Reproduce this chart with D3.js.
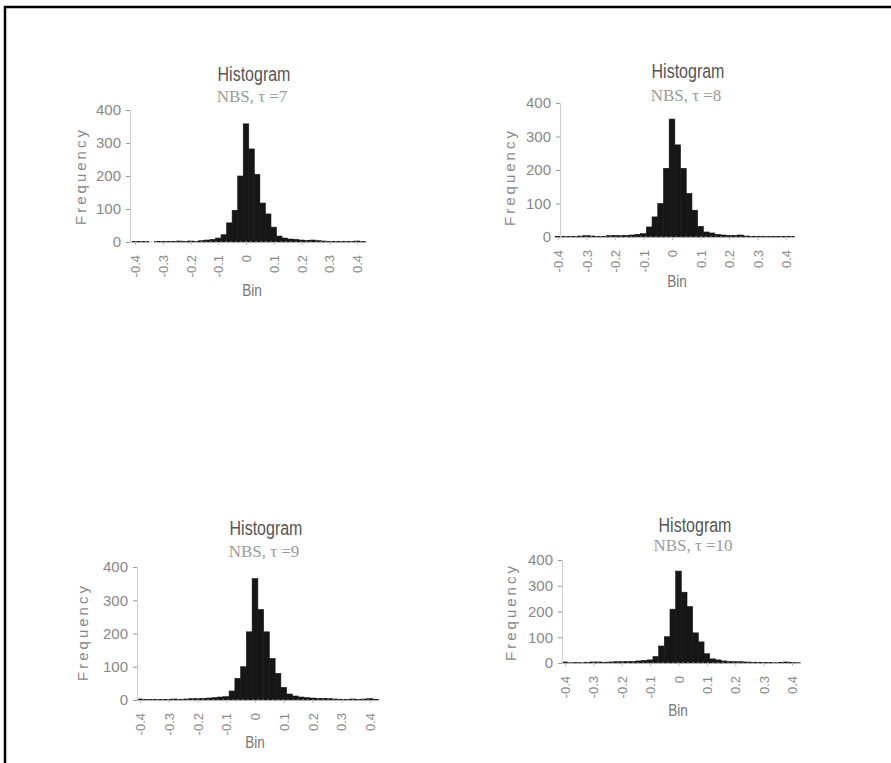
<!DOCTYPE html>
<html>
<head>
<meta charset="utf-8">
<script src="https://cdn.jsdelivr.net/npm/d3@7"></script>
<style>
  body { margin: 0; background: #fff; }
  svg { display: block; }
  .title { font-family: "Liberation Sans", "DejaVu Sans", sans-serif; font-size: 20px; fill: #555; }
  .subtitle { font-family: "Liberation Serif", "DejaVu Serif", serif; font-size: 17px; fill: #9a9a9a; }
  .ylab { font-family: "Liberation Sans", "DejaVu Sans", sans-serif; font-size: 15px; fill: #888; letter-spacing: 3px; }
  .xlab { font-family: "Liberation Sans", "DejaVu Sans", sans-serif; font-size: 16px; fill: #777; }
  .tick text { font-family: "Liberation Sans", "DejaVu Sans", sans-serif; fill: #888; }
</style>
</head>
<body>
<svg id="chart" width="891" height="763"></svg>
<script>
// histogram bins (centres), width 0.02
var BIN_WIDTH = 0.02;
var binCenters = [-0.40, -0.38, -0.36, -0.34, -0.32, -0.30, -0.28, -0.26, -0.24, -0.22,
                  -0.20, -0.18, -0.16, -0.14, -0.12, -0.10, -0.08, -0.06, -0.04, -0.02,
                   0.00,  0.02,  0.04,  0.06,  0.08,  0.10,  0.12,  0.14,  0.16,  0.18,
                   0.20,  0.22,  0.24,  0.26,  0.28,  0.30,  0.32,  0.34,  0.36,  0.38,
                   0.40,  0.42];

var countsT7  = [2, 1, 1, 0, 1, 2, 2, 1, 3, 2, 3, 2, 4, 6, 8, 12, 22, 58, 96, 200,
                 358, 282, 205, 118, 85, 45, 18, 12, 9, 8, 6, 5, 6, 4, 3, 2, 2, 1, 2, 1, 3, 1];
var countsT8  = [1, 2, 1, 1, 3, 4, 3, 2, 2, 4, 5, 4, 5, 6, 8, 10, 30, 60, 100, 205,
                 352, 275, 205, 130, 80, 32, 15, 12, 8, 6, 5, 5, 6, 3, 2, 2, 1, 1, 2, 1, 2, 1];
var countsT9  = [3, 1, 1, 1, 2, 2, 3, 2, 3, 4, 4, 5, 6, 7, 9, 10, 27, 65, 100, 205,
                 365, 272, 205, 125, 80, 38, 18, 12, 9, 7, 6, 5, 5, 4, 3, 2, 2, 3, 2, 3, 4, 2];
var countsT10 = [4, 1, 2, 1, 3, 4, 4, 3, 4, 5, 5, 6, 6, 8, 10, 12, 25, 66, 102, 209,
                 357, 275, 219, 117, 82, 36, 16, 12, 8, 6, 5, 5, 4, 3, 3, 2, 2, 1, 2, 4, 2, 1];

var xTicks = [-0.4, -0.3, -0.2, -0.1, 0, 0.1, 0.2, 0.3, 0.4];
var yTicks = [0, 100, 200, 300, 400];
var titles = ['Histogram', 'Histogram', 'Histogram', 'Histogram'];
var subtitles = ['NBS, \u03c4 =7', 'NBS, \u03c4 =8', 'NBS, \u03c4 =9', 'NBS, \u03c4 =10'];

var svg = d3.select('#chart');

// scanned page frame: top and left edges only
svg.append('path')
    .attr('d', 'M5,763V7H891')
    .attr('fill', 'none')
    .attr('stroke', '#000')
    .attr('stroke-width', 2.5);

var panels = [
  {counts: countsT7,  axisX: 130, x0: 135, x1: 357, xEnd: 368, y0: 242, y1: 110,
   titleX: 254, titleY: 81, subY: 102, binX: 252, binY: 296, freqX: 86, freqY: 176},
  {counts: countsT8,  axisX: 560, x0: 558, x1: 786, xEnd: 793, y0: 237, y1: 103,
   titleX: 688, titleY: 78, subY: 101, binX: 677, binY: 287, freqX: 515, freqY: 177},
  {counts: countsT9,  axisX: 137, x0: 140, x1: 370, xEnd: 373, y0: 700, y1: 567,
   titleX: 266, titleY: 535, subY: 557, binX: 255, binY: 748, freqX: 88, freqY: 632},
  {counts: countsT10, axisX: 562, x0: 565, x1: 792, xEnd: 796, y0: 663, y1: 560,
   titleX: 695, titleY: 532, subY: 551, binX: 678, binY: 716, freqX: 516, freqY: 612}
];

/**
 * Draw one histogram panel.
 */
function drawPanel(p, i) {
  var g = svg.append('g').attr('class', 'panel');

  var x = d3.scaleLinear().domain([-0.4, 0.4]).range([p.x0, p.x1]);
  var y = d3.scaleLinear().domain([0, 400]).range([p.y0, p.y1]);

  var bins = binCenters.map(function(c, k) {
    return {lo: c - BIN_WIDTH / 2, hi: c + BIN_WIDTH / 2, n: p.counts[k]};
  });

  g.selectAll('.bar').data(bins).enter().append('rect')
      .attr('class', 'bar')
      .attr('x', function(d) { return x(d.lo); })
      .attr('width', function(d) { return x(d.hi) - x(d.lo); })
      .attr('y', function(d) { return y(d.n); })
      .attr('height', function(d) { return p.y0 - y(d.n); })
      .attr('fill', '#161616')
      .attr('stroke', '#161616')
      .attr('stroke-width', 0.6);

  // dotted baseline
  g.append('line')
      .attr('x1', p.axisX).attr('x2', p.xEnd)
      .attr('y1', p.y0).attr('y2', p.y0)
      .attr('stroke', '#aaa')
      .attr('stroke-dasharray', '2,3');

  var yAxis = g.append('g')
      .attr('transform', 'translate(' + p.axisX + ',0)')
      .call(d3.axisLeft(y).tickValues(yTicks).tickSize(4).tickPadding(5));
  yAxis.select('.domain').attr('stroke', '#ccc');
  yAxis.selectAll('.tick line').attr('stroke', '#999');
  yAxis.selectAll('.tick text').style('font-size', '15px');

  var xAxis = g.append('g')
      .attr('transform', 'translate(0,' + p.y0 + ')')
      .call(d3.axisBottom(x).tickValues(xTicks).tickSize(3)
          .tickFormat(function(d) { return d === 0 ? '0' : d.toFixed(1); }));
  xAxis.select('.domain').remove();
  xAxis.selectAll('.tick line').attr('stroke', '#bbb');
  xAxis.selectAll('.tick text')
      .style('font-size', '13px')
      .attr('fill', '#999')
      .attr('text-anchor', 'end')
      .attr('transform', 'rotate(-90)')
      .attr('x', -13)
      .attr('y', 0)
      .attr('dy', '0.35em');

  // narrow title, as in the scanned figure
  g.append('text').attr('class', 'title')
      .attr('transform', 'translate(' + p.titleX + ',' + p.titleY + ') scale(0.8,1)')
      .attr('text-anchor', 'middle')
      .text(titles[i]);

  g.append('text').attr('class', 'subtitle')
      .attr('x', p.titleX - 2).attr('y', p.subY)
      .attr('text-anchor', 'middle')
      .text(subtitles[i]);

  g.append('text').attr('class', 'ylab')
      .attr('transform', 'translate(' + p.freqX + ',' + p.freqY + ') rotate(-90)')
      .attr('text-anchor', 'middle')
      .text('Frequency');

  g.append('text').attr('class', 'xlab')
      .attr('transform', 'translate(' + p.binX + ',' + p.binY + ') scale(0.85,1)')
      .attr('text-anchor', 'middle')
      .text('Bin');
}

panels.forEach(drawPanel);
</script>
</body>
</html>
